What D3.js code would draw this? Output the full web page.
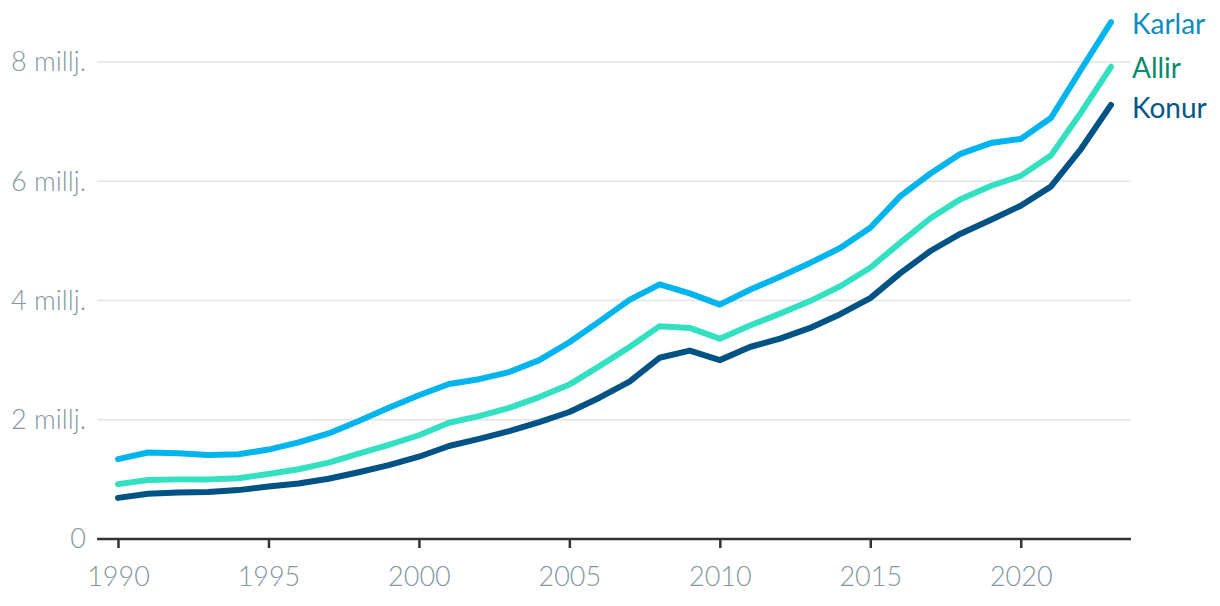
<!DOCTYPE html>
<html><head><meta charset="utf-8">
<script src="https://cdn.jsdelivr.net/npm/d3@7"></script>
<style>
html,body{margin:0;padding:0;background:#fff;}
svg{display:block;font-family:Lato, "Open Sans", sans-serif;}
</style></head>
<body><svg id="chart" width="1220" height="606"></svg>
<script>
const years = d3.range(1990, 2024);
const karlar = [1.34,1.45,1.44,1.41,1.42,1.50,1.62,1.77,1.98,2.20,2.41,2.60,2.68,2.80,3.00,3.30,3.65,4.01,4.27,4.12,3.93,4.18,4.40,4.63,4.88,5.22,5.75,6.13,6.46,6.64,6.71,7.06,7.87,8.67];
const allir  = [0.92,0.99,1.00,1.00,1.02,1.09,1.17,1.28,1.43,1.58,1.74,1.95,2.06,2.20,2.38,2.59,2.90,3.22,3.57,3.54,3.36,3.58,3.78,3.99,4.24,4.55,4.97,5.38,5.70,5.92,6.09,6.43,7.15,7.92];
const konur  = [0.69,0.76,0.78,0.79,0.82,0.88,0.93,1.01,1.12,1.24,1.38,1.56,1.68,1.81,1.96,2.13,2.37,2.64,3.04,3.16,3.00,3.22,3.36,3.54,3.77,4.04,4.46,4.83,5.12,5.35,5.59,5.91,6.54,7.28];
const seriesNames = ["Karlar","Allir","Konur"];
const yTicks = [0,2,4,6,8];
const yTickLabels = ["0","2 millj.","4 millj.","6 millj.","8 millj."];
const xTicks = [1990,1995,2000,2005,2010,2015,2020];

const lineColors = {Karlar:"#00b4ee", Allir:"#33e0c2", Konur:"#005384"};
const textColors = {Karlar:"#0b8cc3", Allir:"#0a8a6c", Konur:"#00568a"};
const labelDy = {Karlar:2, Allir:1, Konur:3};

const svg = d3.select("#chart");
const x = d3.scaleLinear().domain([1990,2023]).range([118,1111]);
const y = d3.scaleLinear().domain([0,8]).range([539,62]);
const left = 97, right = 1131;

// gridlines
svg.append("g").selectAll("line").data(yTicks.filter(d=>d>0)).join("line")
  .attr("x1",left).attr("x2",right).attr("y1",d=>y(d)).attr("y2",d=>y(d))
  .attr("stroke","#e3e3e3").attr("stroke-width",1.5);

// y labels
svg.append("g").selectAll("text").data(yTicks).join("text")
  .attr("x",86).attr("y",d=>y(d)).attr("dy","0.35em").attr("text-anchor","end")
  .attr("fill","#83979f").attr("font-size",27).attr("font-weight",300)
  .text((d,i)=>yTickLabels[i]);

// x axis
const xAxis = d3.axisBottom(x).tickValues(xTicks).tickFormat(d3.format("d")).tickSize(9).tickPadding(19).tickSizeOuter(0);
const gx = svg.append("g").attr("transform",`translate(0,${y(0)})`).call(xAxis);
gx.select(".domain").attr("d",`M${left},0H${right}`).attr("stroke","#333").attr("stroke-width",2.5);
gx.selectAll(".tick line").attr("stroke","#333").attr("stroke-width",2.5);
gx.selectAll(".tick text").attr("fill","#83979f").attr("font-size",27).attr("font-weight",300)
  .attr("dy","0.71em").attr("font-family","Lato, sans-serif");

const data = {Karlar:karlar, Allir:allir, Konur:konur};
const line = d3.line().x((d,i)=>x(years[i])).y(d=>y(d));
["Konur","Allir","Karlar"].forEach(name=>{
  svg.append("path").datum(data[name]).attr("d",line)
    .attr("fill","none").attr("stroke",lineColors[name]).attr("stroke-width",6)
    .attr("stroke-linecap","round").attr("stroke-linejoin","round");
});

svg.append("g").selectAll("text").data(seriesNames).join("text")
  .attr("x",x(2023)+21).attr("y",d=>y(data[d][data[d].length-1])+labelDy[d])
  .attr("dy","0.35em").attr("fill",d=>textColors[d]).attr("font-size",28)
  .text(d=>d);
</script></body></html>
